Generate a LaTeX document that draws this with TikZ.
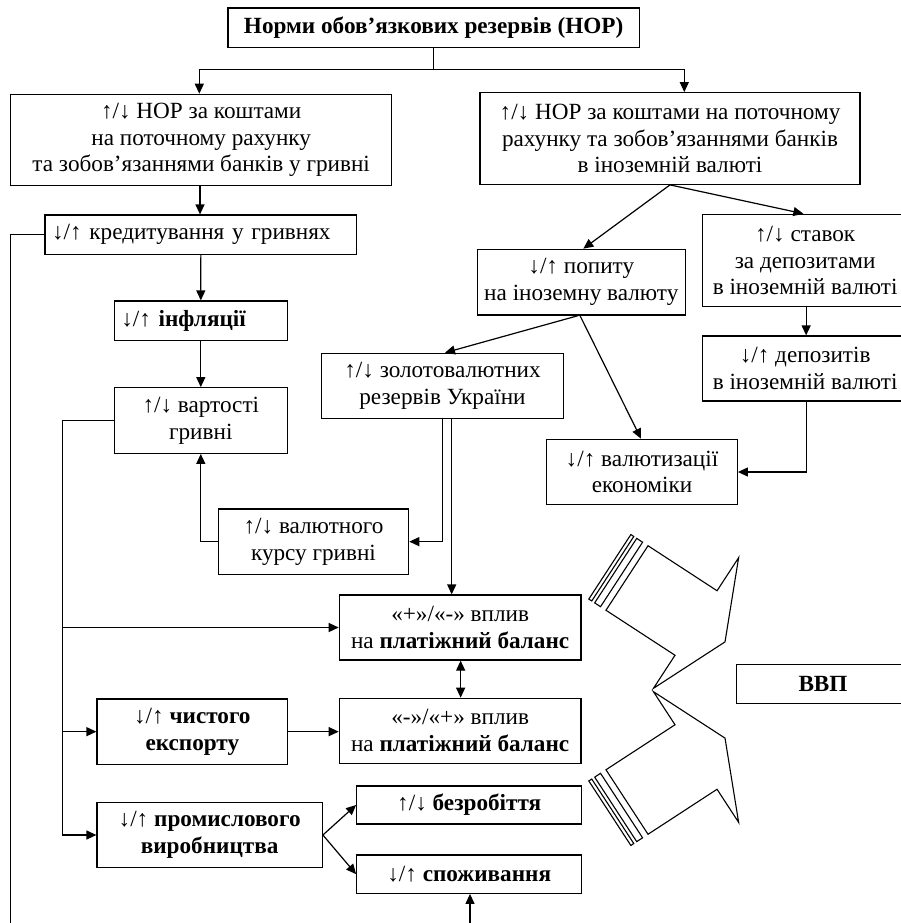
\documentclass[tikz,border=0pt]{standalone}
\usepackage{fontspec}
\setmainfont{Liberation Serif}
\usetikzlibrary{arrows.meta,calc}
\begin{document}
\begin{tikzpicture}[x=1pt,y=-1pt,
  box/.style={draw,line width=1.2pt,align=center,inner sep=0pt,font=\fontsize{23.2}{26.7}\selectfont},
  lbox/.style={box,align=left,inner xsep=7pt},
  conn/.style={line width=1.2pt},
  arr/.style={conn,-{Triangle[length=10pt,width=9pt]}},
  darr/.style={conn,{Triangle[length=10pt,width=9pt]}-{Triangle[length=10pt,width=9pt]}},
  sarrow/.style={line width=1.1pt,line join=miter}]
\useasboundingbox (0,0) rectangle (901,923);
\clip (0,0) rectangle (901,923);

% boxes
\node[box,minimum width=411.3pt,minimum height=39.7pt] (top) at (433.65,27.85) {\textbf{Норми обов’язкових резервів (НОР)}};
\node[box,minimum width=381pt,minimum height=91.4pt] (l1) at (201.2,140) {↑/↓ НОР за коштами\\на поточному рахунку\\та зобов’язаннями банків у гривні};
\node[box,minimum width=380pt,minimum height=91.6pt] (r1) at (670,138.5) {↑/↓ НОР за коштами на поточному\\рахунку та зобов’язаннями банків\\в іноземній валюті};
\node[lbox,text width=297.7pt,minimum height=39.3pt] (kred) at (200.85,234.65) {↓/↑ кредитування у гривнях};
\node[lbox,text width=159pt,minimum height=39.7pt] (infl) at (200.8,320.85) {↓/↑ \textbf{інфляції}};
\node[box,minimum width=173pt,minimum height=65.6pt] (vart) at (200.8,420.5) {↑/↓ вартості\\гривні};
\node[box,minimum width=190.4pt,minimum height=65.3pt] (kurs) at (313.5,541.65) {↑/↓ валютного\\курсу гривні};
\node[box,minimum width=241.6pt,minimum height=65pt] (zolot) at (442.5,385.8) {↑/↓ золотовалютних\\резервів України};
\node[box,minimum width=241.7pt,minimum height=65pt] (plus) at (460.15,627.5) {«+»/«-» вплив\\на \textbf{платіжний баланс}};
\node[box,minimum width=241.7pt,minimum height=65pt] (minus) at (460.15,730.8) {«-»/«+» вплив\\на \textbf{платіжний баланс}};
\node[box,minimum width=190.7pt,minimum height=65.3pt] (chyst) at (192.35,731.65) {↓/↑ \textbf{чистого}\\\textbf{експорту}};
\node[box,minimum width=225.3pt,minimum height=65.4pt] (prom) at (209.65,835) {↓/↑ \textbf{промислового}\\\textbf{виробництва}};
\node[box,minimum width=225pt,minimum height=38pt] (bezr) at (469.2,805) {↑/↓ \textbf{безробіття}};
\node[box,minimum width=225pt,minimum height=38.3pt] (spozh) at (469.2,874.15) {↓/↑ \textbf{споживання}};
\node[box,minimum width=208pt,minimum height=65.7pt] (popyt) at (581.3,282.15) {↓/↑ попиту\\на іноземну валюту};
\node[box,minimum width=205.7pt,minimum height=92.4pt] (stavok) at (805.15,260.5) {↑/↓ ставок\\за депозитами\\в іноземній валюті};
\node[box,minimum width=205.7pt,minimum height=65pt] (depoz) at (805.15,368.5) {↓/↑ депозитів\\в іноземній валюті};
\node[box,minimum width=190.6pt,minimum height=65.4pt] (valiut) at (642,472) {↓/↑ валютизації\\економіки};
\node[box,minimum width=172.6pt,minimum height=39pt] (vvp) at (823,683.8) {\textbf{ВВП}};

% connectors
\draw[conn] (top.south) -- ++(0,21.6) coordinate (jn);
\draw[arr] (jn) -| ([xshift=-1.9pt]l1.north);
\draw[arr] (jn) -| ([xshift=14.3pt]r1.north);
\draw[arr] ([xshift=-1.2pt]l1.south) -- ([xshift=-1.2pt]l1.south |- kred.north);
\draw[arr] (kred.south) -- (infl.north);
\draw[arr] (infl.south) -- (vart.north);
\coordinate (lft) at (10.7,930);
\draw[conn] (kred.west) -| (lft);
\coordinate (bus) at (62.7,835);
\draw[arr] (vart.west) -| (bus) -- (prom.west);
\draw[arr] (plus.west -| bus) -- (plus.west);
\draw[arr] (chyst.west -| bus) -- (chyst.west);
\draw[arr] (kurs.west) -| (vart.south);
\draw[arr] (zolot.south) |- (kurs.east);
\draw[arr] ([xshift=9.2pt]zolot.south) -- ([xshift=9.2pt]zolot.south |- plus.north);
\draw[darr] ([xshift=0.5pt]plus.south) -- ([xshift=0.5pt]minus.north);
\draw[arr] (chyst.east) -- (chyst.east -| minus.west);
\draw[arr] (prom.east) -- (bezr.west);
\draw[arr] (prom.east) -- (spozh.west);
\coordinate (bot) at (470,930);
\draw[arr] (bot) -- (bot |- spozh.south);
\draw[arr] (r1.south) -- ([xshift=2pt]popyt.north);
\draw[arr] (r1.south) -- ([xshift=-1.8pt]stavok.north);
\draw[arr] ([xshift=1pt]stavok.south) -- ([xshift=1pt]stavok.south |- depoz.north);
\draw[arr] ([xshift=1pt]depoz.south) |- (valiut.east);
\draw[arr] ([xshift=-1.3pt]popyt.south) -- ([xshift=-1pt]valiut.north);
\draw[arr] ([xshift=-3pt]popyt.south) -- ([xshift=2.5pt]zolot.north);

% striped arrows toward GDP
\begin{scope}[shift={(627,578)},rotate=-33.1]
  \draw[sarrow] (0,-38.5) -- (82.4,-38.5) -- (82.4,-78) -- (117,0) -- (82.4,78) -- (82.4,38.5) -- (0,38.5) -- cycle;
  \draw[sarrow] (-20.5,-38.5) rectangle (-17,38.5);
  \draw[sarrow] (-13.5,-38.5) rectangle (-6.5,38.5);
\end{scope}
\begin{scope}[shift={(627,802)},rotate=33.1]
  \draw[sarrow] (0,-38.5) -- (82.4,-38.5) -- (82.4,-78) -- (117,0) -- (82.4,78) -- (82.4,38.5) -- (0,38.5) -- cycle;
  \draw[sarrow] (-20.5,-38.5) rectangle (-17,38.5);
  \draw[sarrow] (-13.5,-38.5) rectangle (-6.5,38.5);
\end{scope}
\end{tikzpicture}
\end{document}
